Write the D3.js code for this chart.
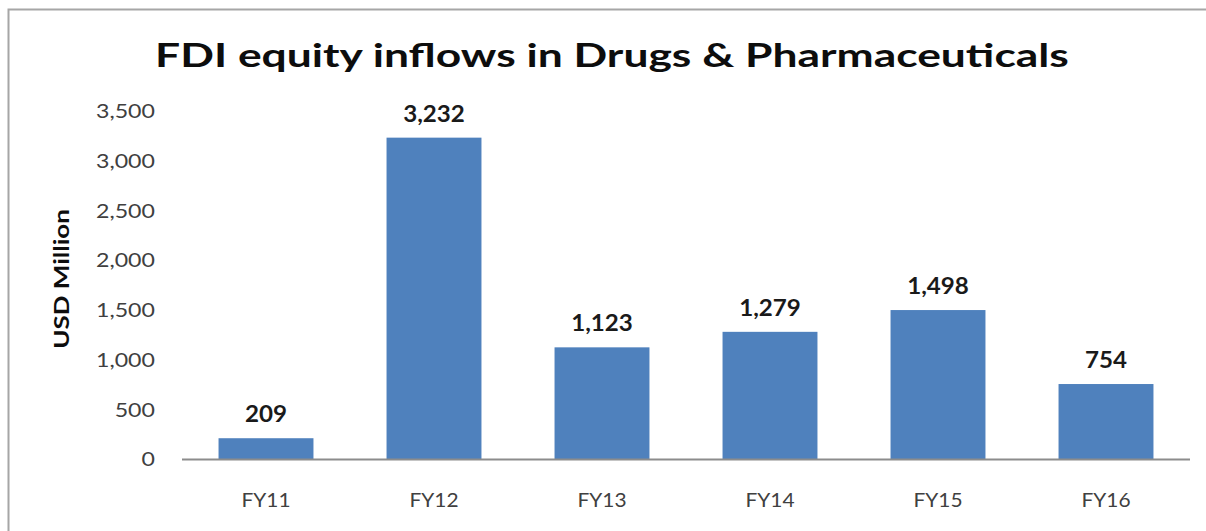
<!DOCTYPE html>
<html>
<head>
<meta charset="utf-8">
<script src="https://cdn.jsdelivr.net/npm/d3@7"></script>
<style>
  html, body { margin: 0; padding: 0; background: #fff; overflow: hidden; }
  svg { display: block; overflow: hidden; }
  text { font-family: Lato, "Open Sans", sans-serif; }
</style>
</head>
<body>
<svg id="chart" width="1206" height="531"></svg>
<script>
const titleText = "FDI equity inflows in Drugs & Pharmaceuticals";
const yAxisTitle = "USD Million";
const categories = ["FY11", "FY12", "FY13", "FY14", "FY15", "FY16"];
const values = [209, 3232, 1123, 1279, 1498, 754];
const yTicks = [0, 500, 1000, 1500, 2000, 2500, 3000, 3500];

const svg = d3.select("#chart");

// frame (top and left edges visible)
svg.append("path")
  .attr("d", "M8.5,531V9.5H1206")
  .attr("fill", "none")
  .attr("stroke", "#a6a6a6").attr("stroke-width", 2);

const x = d3.scaleBand()
  .domain(categories)
  .range([182, 1190])
  .paddingInner(0.435)
  .paddingOuter(0.2175);

const y = d3.scaleLinear()
  .domain([0, 3500])
  .range([459, 111]);

function stretched(sel, sx) {
  sel.attr("transform", function () {
    const tx = +d3.select(this).attr("x");
    const ty = +d3.select(this).attr("y");
    return `translate(${tx},${ty}) scale(${sx},1) translate(${-tx},${-ty})`;
  });
}

// title
svg.append("text")
  .attr("x", 612).attr("y", 67)
  .attr("text-anchor", "middle")
  .attr("font-size", 33).attr("font-weight", 700)
  .attr("fill", "#0d0d0d")
  .text(titleText)
  .call(stretched, 1.345);

// y axis tick labels
const yAxis = d3.axisLeft(y).tickValues(yTicks).tickFormat(d3.format(",")).tickSize(0).tickPadding(0);
const gy = svg.append("g").attr("transform", "translate(155,0)").call(yAxis);
gy.select(".domain").remove();
gy.selectAll(".tick text")
  .attr("font-size", 19).attr("fill", "#404040")
  .attr("font-family", "Lato, sans-serif")
  .attr("x", 0)
  .attr("dy", "0.36em")
  .attr("transform", "scale(1.22,1)");

// y axis title
svg.append("text")
  .attr("transform", `translate(69,${(y(0) + y(3500)) / 2 - 6}) rotate(-90) scale(1.3,1)`)
  .attr("text-anchor", "middle")
  .attr("font-size", 20).attr("font-weight", 700)
  .attr("fill", "#0d0d0d")
  .text(yAxisTitle);

// bars
svg.append("g").selectAll("rect")
  .data(values)
  .join("rect")
  .attr("x", (d, i) => x(categories[i]))
  .attr("width", x.bandwidth())
  .attr("y", d => y(d))
  .attr("height", d => y(0) - y(d))
  .attr("fill", "#4f81bd");

// data labels
svg.append("g").selectAll("text")
  .data(values)
  .join("text")
  .attr("x", (d, i) => x(categories[i]) + x.bandwidth() / 2)
  .attr("y", d => y(d) - 16)
  .attr("text-anchor", "middle")
  .attr("font-size", 23).attr("font-weight", 700)
  .attr("fill", "#1a1a1a")
  .text(d => d3.format(",")(d))
  .call(stretched, 1.05);

// x axis
const xAxis = d3.axisBottom(x).tickSize(0).tickPadding(0);
const gx = svg.append("g").attr("transform", `translate(0,${y(0)})`).call(xAxis);
gx.select(".domain")
  .attr("d", `M182,0.5H1190`)
  .attr("stroke", "#8c8c8c").attr("stroke-width", 2);
gx.selectAll(".tick text")
  .attr("font-size", 19).attr("fill", "#404040")
  .attr("font-family", "Lato, sans-serif")
  .attr("y", 48).attr("dy", 0);
gx.selectAll(".tick").each(function () {
  const t = d3.select(this);
  const m = /translate\(([^,]+),/.exec(t.attr("transform"));
  const cx = +m[1];
  t.attr("transform", `translate(${cx},0) scale(1.1,1)`);
});
</script>
</body>
</html>
